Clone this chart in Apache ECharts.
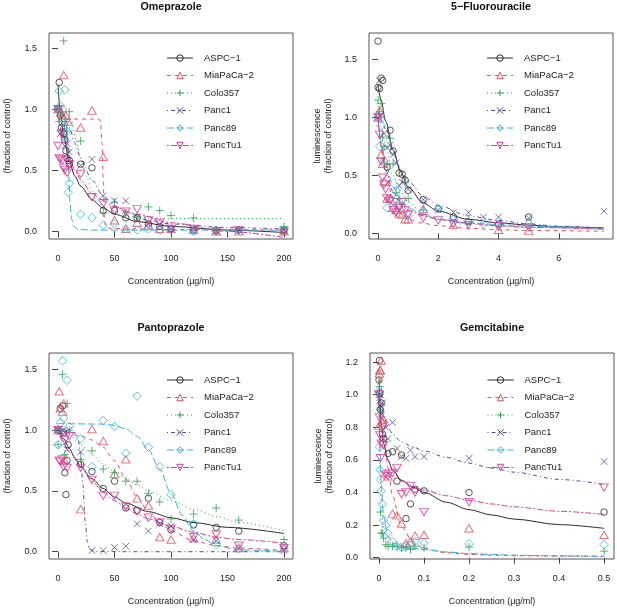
<!DOCTYPE html>
<html>
<head>
<meta charset="utf-8">
<script src="https://cdn.jsdelivr.net/npm/echarts@6/dist/echarts.min.js"></script>
<style>
  html, body { margin: 0; padding: 0; background: #fff; }
  #chart { width: 617px; height: 612px; }
</style>
</head>
<body>
<div id="chart"></div>
<script>
// cell lines, same order in every points / fits array below
const cellLines = ['ASPC−1', 'MiaPaCa−2', 'Colo357', 'Panc1', 'Panc89', 'PancTu1'];
const drugTitles = ['Omeprazole', '5−Fluorouracile', 'Pantoprazole', 'Gemcitabine'];

// tick values
const ticksConc200 = [0, 50, 100, 150, 200];
const ticks5FU = [0, 2, 4, 6];
const ticksGem = [0, 0.1, 0.2, 0.3, 0.4, 0.5];
const ticksFrac = [0, 0.5, 1.0, 1.5];
const ticksGemY = [0, 0.2, 0.4, 0.6, 0.8, 1.0, 1.2];

// ---- Omeprazole: measured points [conc, fraction]
const omePoints = [
  [[0,1.0],[1,1.22],[2,0.95],[3,0.85],[5,0.8],[6,0.75],[7,0.66],[8,0.6],[10,0.55],[10,0.58],[20,0.55],[30,0.52],[40,0.17],[50,0.17],[60,0.11],[70,0.11],[80,0.06],[90,0.04],[100,0.02],[120,0.01],[140,0.01],[160,0.01],[200,0.0]],
  [[0,1.0],[3,0.97],[5,1.28],[7,0.95],[9,0.9],[20,0.85],[30,0.99],[40,0.61],[50,0.09],[60,0.02],[70,0.07],[80,0.05],[90,0.02],[100,0.02],[120,0.01],[140,0.0],[160,0.0],[200,0.0]],
  [[0,1.0],[1,0.9],[2,0.95],[5,1.56],[6,0.9],[8,0.82],[10,0.98],[20,0.74],[40,0.15],[50,0.24],[60,0.15],[70,0.12],[80,0.2],[90,0.17],[100,0.13],[120,0.11],[140,0.01],[160,0.01],[200,0.04]],
  [[0,1.0],[2,0.8],[4,0.85],[5,0.78],[6,0.7],[8,0.72],[10,0.65],[20,0.54],[30,0.59],[40,0.29],[50,0.25],[60,0.25],[70,0.1],[80,0.06],[90,0.05],[100,0.02],[120,0.02],[140,0.0],[160,0.01],[200,0.01]],
  [[0,1.0],[1,1.15],[2,1.03],[4,1.0],[6,1.16],[7,0.9],[8,0.82],[9,0.32],[10,0.39],[20,0.14],[30,0.11],[40,0.05],[50,0.06],[60,0.02],[70,0.01],[80,0.02],[90,0.01],[100,0.01],[120,0.0],[140,0.0],[160,0.01],[200,0.01]],
  [[0,1.0],[0,0.7],[1,0.6],[2,0.59],[3,0.8],[4,0.58],[5,0.52],[6,0.5],[8,0.48],[10,0.55],[20,0.47],[30,0.28],[40,0.23],[50,0.17],[60,0.16],[70,0.18],[80,0.09],[90,0.07],[100,0.02],[120,0.02],[140,0.0],[160,0.01],[200,0.0]]
];
// Omeprazole: fitted curves
const omeFits = [
  [[0,1.2],[2,0.97],[5,0.78],[10,0.57],[15,0.45],[20,0.37],[30,0.26],[40,0.19],[50,0.14],[70,0.08],[100,0.04],[150,0.01],[200,-0.01]],
  [[0,0.92],[35,0.92],[37.5,0.91],[39,0.72],[40,0.42],[41,0.12],[42,0.04],[45,0.025],[60,0.02],[100,0.015],[200,0.01]],
  [[0,0.99],[8,0.97],[12,0.9],[16,0.75],[20,0.6],[25,0.45],[30,0.33],[35,0.25],[40,0.19],[50,0.14],[60,0.12],[80,0.107],[120,0.105],[200,0.105]],
  [[0,1.0],[5,0.95],[10,0.85],[15,0.72],[20,0.6],[30,0.42],[40,0.29],[50,0.21],[60,0.16],[80,0.09],[100,0.06],[150,0.03],[200,0.02]],
  [[0,1.0],[5,0.98],[7,0.9],[8.5,0.7],[9.5,0.45],[10.5,0.25],[12,0.1],[14,0.04],[18,0.015],[30,0.01],[100,0.01],[200,0.01]],
  [[0,0.95],[5,0.75],[10,0.6],[15,0.5],[20,0.42],[30,0.31],[40,0.25],[50,0.2],[70,0.14],[100,0.07],[150,0.0],[200,-0.05]]
];

// ---- 5-Fluorouracile
const fuPoints = [
  [[0,1.66],[0,1.26],[0.05,1.25],[0.1,1.34],[0.15,1.32],[0.3,0.57],[0.4,0.89],[0.5,0.71],[0.7,0.52],[0.8,0.51],[0.9,0.46],[1.0,0.37],[1.5,0.29],[2,0.21],[2.5,0.14],[3,0.1],[4,0.08],[5,0.14]],
  [[0,1.0],[0.05,1.06],[0.1,0.68],[0.15,0.6],[0.2,0.45],[0.3,0.3],[0.4,0.3],[0.5,0.22],[0.6,0.2],[0.7,0.17],[0.8,0.16],[0.9,0.12],[1.0,0.12],[1.5,0.21],[2.5,0.07],[4,0.03],[5,0.02]],
  [[0,1.15],[0.05,1.05],[0.1,1.12],[0.15,0.83],[0.2,0.75],[0.3,0.6],[0.4,0.82],[0.5,0.6],[0.6,0.35],[0.7,0.3],[0.8,0.25],[0.9,0.44],[1.0,0.3],[1.5,0.2]],
  [[0,1.0],[0.05,1.32],[0.1,1.02],[0.2,0.86],[0.3,0.74],[0.4,0.76],[0.5,0.68],[0.6,0.61],[0.7,0.41],[0.8,0.44],[1.0,0.38],[1.5,0.29],[2,0.2],[2.5,0.18],[3,0.18],[3.5,0.14],[4,0.14],[5,0.13],[7.5,0.19]],
  [[0,1.0],[0.05,0.75],[0.1,0.93],[0.2,0.62],[0.3,0.22],[0.4,0.3],[0.5,0.28],[0.6,0.37],[0.7,0.25],[0.8,0.22],[1.0,0.15],[1.5,0.19],[2,0.21],[2.5,0.12],[3,0.1],[3.5,0.08],[4,0.07],[5,0.08]],
  [[0,1.0],[0.05,0.85],[0.1,0.62],[0.15,0.48],[0.2,0.42],[0.25,0.38],[0.3,0.3],[0.4,0.28],[0.5,0.2],[0.6,0.18],[0.7,0.22],[0.8,0.27],[0.9,0.2],[1.0,0.16],[1.5,0.13],[2,0.11],[2.5,0.08],[3,0.07],[4,0.06],[5,0.05]]
];
const fuFits = [
  [[0,1.28],[0.1,1.15],[0.25,0.97],[0.5,0.72],[0.75,0.53],[1,0.4],[1.5,0.26],[2,0.19],[3,0.12],[4,0.09],[5,0.07],[6,0.055],[7.5,0.045]],
  [[0,1.0],[0.1,0.75],[0.25,0.52],[0.5,0.3],[0.75,0.18],[1,0.12],[1.5,0.085],[2,0.065],[3,0.042],[4,0.03],[5,0.024],[7.5,0.017]],
  [[0,1.1],[0.1,0.92],[0.25,0.75],[0.5,0.5],[0.75,0.36],[1,0.27],[1.5,0.17],[2,0.12],[3,0.08],[4,0.06],[5,0.05],[7.5,0.035]],
  [[0,1.05],[0.1,1.0],[0.25,0.9],[0.5,0.7],[0.75,0.55],[1,0.45],[1.5,0.32],[2,0.24],[3,0.15],[4,0.11],[5,0.08],[6,0.06],[7.5,0.045]],
  [[0,1.0],[0.1,0.8],[0.25,0.6],[0.5,0.4],[0.75,0.29],[1,0.22],[1.5,0.16],[2,0.12],[3,0.09],[4,0.075],[5,0.06],[7.5,0.04]],
  [[0,1.0],[0.1,0.75],[0.25,0.55],[0.5,0.35],[0.75,0.25],[1,0.2],[1.5,0.15],[2,0.12],[3,0.085],[4,0.065],[5,0.05],[7.5,0.035]]
];

// ---- Pantoprazole
const pantoPoints = [
  [[0,1.0],[2,1.18],[4,1.2],[5,0.98],[6,0.65],[7,0.47],[8,0.75],[9,0.88],[20,0.72],[30,0.66],[40,0.52],[50,0.58],[60,0.36],[70,0.34],[80,0.44],[90,0.24],[100,0.18],[120,0.22],[140,0.2],[160,0.17],[200,0.05]],
  [[0,1.0],[1,1.32],[2,1.18],[4,1.15],[5,1.22],[6,0.75],[20,0.35],[30,1.01],[40,0.91],[50,0.64],[60,0.76],[70,0.44],[80,0.38],[90,0.12],[100,0.1],[120,0.11],[140,0.1],[160,0.03],[200,0.03]],
  [[0,1.0],[0,0.88],[4,1.46],[6,0.8],[8,1.22],[10,1.0],[20,0.76],[30,0.83],[40,0.68],[50,0.65],[60,0.58],[70,0.58],[80,0.48],[90,0.41],[100,0.27],[120,0.31],[140,0.36],[160,0.26],[200,0.1]],
  [[0,1.0],[2,0.99],[4,1.0],[6,0.98],[8,0.84],[10,1.0],[20,0.82],[30,0.01],[40,0.01],[50,0.035],[60,0.045],[70,0.23],[80,0.17],[90,0.23],[100,0.21],[120,0.1],[140,0.09],[160,0.03],[200,0.01]],
  [[0,1.0],[0,0.88],[2,1.06],[4,1.57],[5,1.1],[8,1.41],[10,1.03],[20,0.93],[30,0.7],[40,1.08],[50,1.03],[60,0.81],[70,1.28],[80,0.86],[90,0.7],[100,0.47],[120,0.23],[140,0.06],[160,0.02],[200,0.03]],
  [[0,1.0],[1,0.75],[2,0.74],[4,0.76],[5,0.7],[6,0.92],[8,0.69],[10,0.95],[20,0.69],[30,0.59],[40,0.46],[50,0.46],[60,0.37],[70,0.33],[80,0.28],[90,0.24],[100,0.19],[120,0.12],[140,0.14],[160,0.05],[200,0.03]]
];
const pantoFits = [
  [[0,1.0],[5,0.93],[10,0.85],[15,0.77],[20,0.7],[30,0.6],[40,0.52],[50,0.45],[60,0.4],[80,0.33],[100,0.28],[120,0.24],[150,0.2],[200,0.15]],
  [[0,0.97],[10,0.97],[20,0.95],[30,0.92],[40,0.86],[50,0.75],[60,0.6],[70,0.45],[80,0.33],[90,0.24],[100,0.17],[120,0.09],[140,0.05],[160,0.03],[200,0.01]],
  [[0,1.0],[10,0.96],[20,0.88],[30,0.8],[40,0.72],[50,0.66],[60,0.6],[70,0.55],[80,0.5],[100,0.42],[120,0.35],[140,0.29],[160,0.24],[200,0.17]],
  [[0,1.0],[15,0.98],[18,0.92],[20,0.8],[22,0.55],[24,0.25],[26,0.08],[28,0.02],[32,0.003],[60,0.0],[200,0.0]],
  [[0,1.055],[40,1.05],[50,1.04],[60,1.01],[70,0.95],[80,0.84],[90,0.68],[100,0.48],[110,0.3],[120,0.17],[130,0.1],[140,0.05],[160,0.015],[200,0.002]],
  [[0,0.98],[10,0.83],[20,0.7],[30,0.58],[40,0.49],[50,0.42],[60,0.36],[70,0.31],[80,0.27],[100,0.21],[120,0.16],[140,0.12],[160,0.1],[200,0.07]]
];

// ---- Gemcitabine
const gemPoints = [
  [[0,1.09],[0.001,1.21],[0.002,1.01],[0.003,0.91],[0.005,0.95],[0.0075,0.76],[0.01,0.73],[0.02,0.64],[0.03,0.65],[0.04,0.47],[0.05,0.63],[0.06,0.24],[0.07,0.33],[0.08,0.42],[0.1,0.41],[0.2,0.4],[0.5,0.28]],
  [[0,0.81],[0.001,1.13],[0.002,1.15],[0.003,1.15],[0.005,1.21],[0.0075,0.83],[0.01,0.85],[0.015,0.52],[0.02,0.5],[0.03,0.27],[0.04,0.26],[0.05,0.21],[0.06,0.09],[0.07,0.1],[0.08,0.135],[0.1,0.14],[0.2,0.18],[0.5,0.14]],
  [[0,1.0],[0.001,1.05],[0.002,0.91],[0.003,0.28],[0.005,0.15],[0.0075,0.15],[0.01,0.12],[0.015,0.08],[0.02,0.07],[0.03,0.07],[0.04,0.07],[0.05,0.06],[0.06,0.06],[0.07,0.05],[0.08,0.07],[0.1,0.06],[0.2,0.065],[0.5,0.04]],
  [[0,1.0],[0.001,0.98],[0.002,0.93],[0.003,1.0],[0.005,0.88],[0.0075,0.95],[0.01,0.73],[0.015,0.8],[0.02,0.73],[0.03,0.83],[0.04,0.67],[0.05,0.62],[0.06,0.61],[0.07,0.66],[0.08,0.62],[0.1,0.62],[0.2,0.61],[0.5,0.59]],
  [[0,1.02],[0.001,0.68],[0.002,0.54],[0.003,0.48],[0.005,0.41],[0.0075,0.33],[0.01,0.23],[0.015,0.2],[0.02,0.15],[0.03,0.1],[0.04,0.07],[0.05,0.065],[0.06,0.07],[0.07,0.075],[0.08,0.1],[0.1,0.09],[0.2,0.085],[0.5,0.08]],
  [[0,1.0],[0.001,0.86],[0.002,0.75],[0.003,0.61],[0.005,0.7],[0.0075,0.8],[0.01,0.69],[0.015,0.51],[0.02,0.5],[0.03,0.52],[0.04,0.55],[0.05,0.39],[0.06,0.4],[0.07,0.44],[0.08,0.4],[0.1,0.28],[0.2,0.34],[0.5,0.43]]
];
// Gemcitabine fitted curves: values read at these concentrations
const gemFitConc = [0, 0.0025, 0.005, 0.01, 0.02, 0.03, 0.05, 0.075, 0.1, 0.15, 0.2, 0.25, 0.3, 0.4, 0.5];
const gemFitValues = [
  [1.1, 0.93, 0.82, 0.7, 0.6, 0.54, 0.475, 0.433, 0.4, 0.34, 0.295, 0.262, 0.237, 0.203, 0.18],
  [1.15, 1.1, 1.05, 0.85, 0.55, 0.38, 0.19, 0.1, 0.055, 0.03, 0.02, 0.015, 0.012, 0.01, 0.008],
  [1.0, 0.5, 0.3, 0.14, 0.09, 0.075, 0.065, 0.057, 0.05, 0.035, 0.025, 0.02, 0.015, 0.011, 0.008],
  [1.0, 0.95, 0.92, 0.87, 0.8, 0.76, 0.71, 0.68, 0.655, 0.615, 0.58, 0.55, 0.525, 0.48, 0.45],
  [1.0, 0.65, 0.45, 0.25, 0.13, 0.09, 0.07, 0.058, 0.05, 0.035, 0.025, 0.02, 0.015, 0.011, 0.008],
  [1.0, 0.87, 0.8, 0.7, 0.6, 0.53, 0.47, 0.435, 0.415, 0.38, 0.352, 0.33, 0.312, 0.285, 0.265]
];
const gemFits = gemFitValues.map(vals => vals.map((v, k) => [gemFitConc[k], v]));

// styles per cell line (R pch 1..6, lty 1..6)
const colors = ['#2b2b2b', '#E2535F', '#2FA352', '#4D4DA6', '#36B3E3', '#D83C9B'];
const dashes = ['solid', [4, 4], [1, 3], [1, 3, 4, 3], [7, 3], [2, 2, 6, 2]];
const symbols = [
  'circle',
  'path://M5,0L10,8.66L0,8.66Z',
  'path://M5,0L5,10M0,5L10,5',
  'path://M0,0L10,10M10,0L0,10',
  'path://M5,0L10,5L5,10L0,5Z',
  'path://M0,0L10,0L5,8.66Z'
];
const symbolSizes = [6.5, [8.5, 7.4], 8, 6.5, 8.5, [8.5, 7.4]];

const panels = [
  { points: omePoints, fits: omeFits, title: drugTitles[0], box: [49, 33, 244, 206],
    x: [-8, 208], y: [-0.063, 1.625], xt: ticksConc200, yt: ticksFrac, yName: '(fraction of control)', leg: [166.5, 53] },
  { points: fuPoints, fits: fuFits, title: drugTitles[1], box: [369, 33, 244, 206],
    x: [-0.3, 7.8], y: [-0.05, 1.73], xt: ticks5FU, yt: ticksFrac, yName: 'luminescence\n(fraction of control)', leg: [486.5, 53] },
  { points: pantoPoints, fits: pantoFits, title: drugTitles[2], box: [49, 353, 244, 206],
    x: [-8, 208], y: [-0.06, 1.635], xt: ticksConc200, yt: ticksFrac, yName: '(fraction of control)', leg: [166.5, 375] },
  { points: gemPoints, fits: gemFits, title: drugTitles[3], box: [370, 353, 244, 206],
    x: [-0.02, 0.522], y: [-0.008, 1.256], xt: ticksGem, yt: ticksGemY, yName: 'luminescence\n(fraction of control)', leg: [487, 375] }
];

const FONT = 'Liberation Sans, Arial, Helvetica, sans-serif';
const TXT = '#222';

const grid = [], xAxis = [], yAxis = [], series = [], legend = [], graphic = [];

panels.forEach((p, pi) => {
  const [l, t, w, h] = p.box;
  grid.push({ left: l, top: t, width: w, height: h, show: true, borderColor: '#555', borderWidth: 1, backgroundColor: 'transparent' });
  xAxis.push({
    type: 'value', gridIndex: pi, min: p.x[0], max: p.x[1],
    name: 'Concentration (μg/ml)', nameLocation: 'middle', nameGap: 38,
    nameTextStyle: { fontFamily: FONT, fontSize: 9, color: TXT },
    axisLine: { show: false }, splitLine: { show: false },
    axisTick: { show: true, length: 6, customValues: p.xt, lineStyle: { color: '#444' } },
    axisLabel: { customValues: p.xt, margin: 15, fontFamily: FONT, fontSize: 9, color: TXT,
      formatter: v => (pi === 3 && v !== 0) ? v.toFixed(1) : String(v) }
  });
  yAxis.push({
    type: 'value', gridIndex: pi, min: p.y[0], max: p.y[1],
    name: p.yName, nameLocation: 'middle', nameRotate: 90, nameGap: pi % 2 === 0 ? 36 : 35,
    nameTextStyle: { fontFamily: FONT, fontSize: 9, color: TXT, lineHeight: 11 },
    axisLine: { show: false }, splitLine: { show: false },
    axisTick: { show: true, length: 6, customValues: p.yt, lineStyle: { color: '#444' } },
    axisLabel: { customValues: p.yt, margin: 12, fontFamily: FONT, fontSize: 9, color: TXT,
      formatter: v => v.toFixed(1) }
  });
  cellLines.forEach((name, i) => {
    series.push({
      type: 'line', name, xAxisIndex: pi, yAxisIndex: pi, data: p.fits[i],
      smooth: 0.3, smoothMonotone: 'x', symbol: symbols[i], showSymbol: false,
      lineStyle: { color: colors[i], width: 1, type: dashes[i] },
      itemStyle: { color: colors[i] }, silent: true, z: 2
    });
    series.push({
      type: 'scatter', name, xAxisIndex: pi, yAxisIndex: pi, data: p.points[i],
      symbol: symbols[i], symbolSize: symbolSizes[i],
      itemStyle: { color: 'rgba(0,0,0,0)', borderColor: colors[i], borderWidth: 1 }, z: 3
    });
  });
  legend.push({
    orient: 'vertical', left: p.leg[0], top: p.leg[1], padding: 0,
    itemWidth: 26, itemHeight: 8, itemGap: 7.5,
    textStyle: { fontFamily: FONT, fontSize: 9.5, color: TXT, padding: [0, 0, 0, 6], lineHeight: 10 },
    data: cellLines.map((n, i) => ({
      name: n,
      itemStyle: { color: 'rgba(0,0,0,0)', borderColor: colors[i], borderWidth: 1 },
      lineStyle: { color: colors[i], width: 1, type: dashes[i] }
    }))
  });
  graphic.push({
    type: 'text', x: l + w / 2, y: pi < 2 ? 7.5 : 328,
    style: { text: p.title, font: 'bold 10.7px ' + FONT, fill: '#111', textAlign: 'center', textVerticalAlign: 'middle' }
  });
});

const chart = echarts.init(document.getElementById('chart'), null, { renderer: 'canvas' });
chart.setOption({
  animation: false,
  backgroundColor: '#fff',
  grid, xAxis, yAxis, series, legend, graphic
});
</script>
</body>
</html>
